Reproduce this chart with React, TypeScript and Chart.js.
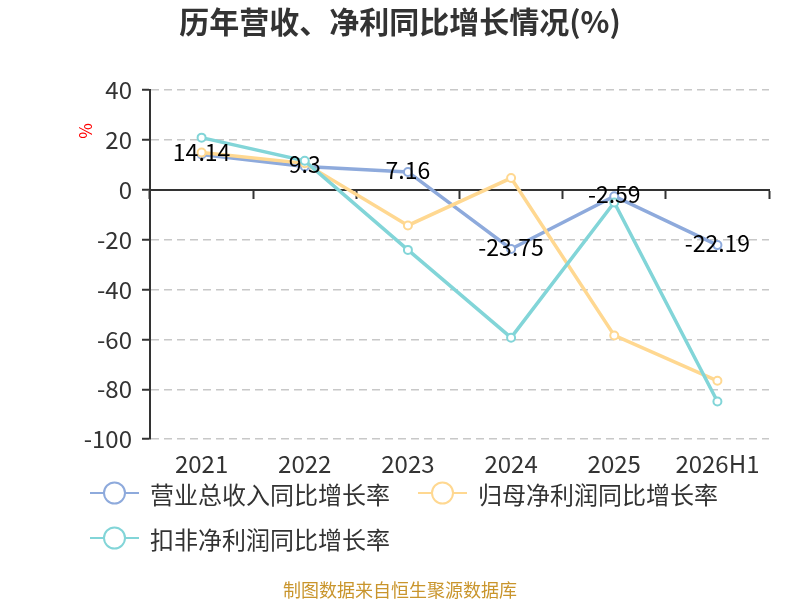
import { useEffect, useRef } from "react";
import { Chart, registerables } from "chart.js";

Chart.register(...registerables);

const FONT = '"Noto Sans CJK SC", "Noto Sans", sans-serif';

const categories = ["2021", "2022", "2023", "2024", "2025", "2026H1"];
const revenueGrowth = [14.14, 9.3, 7.16, -23.75, -2.59, -22.19];
const parentProfitGrowth = [14.9, 10.6, -14.3, 4.7, -58.4, -76.6];
const deductedProfitGrowth = [20.9, 11.6, -24.1, -59.3, -5.1, -84.9];
const seriesNames = ["营业总收入同比增长率", "归母净利润同比增长率", "扣非净利润同比增长率"];
const seriesColors = ["#8eaadc", "#ffd891", "#82d5d8"];

// labels on the revenue line, sitting on the points
const pointLabels = {
  id: "pointLabels",
  afterDatasetsDraw(chart: Chart) {
    const { ctx } = chart;
    const meta = chart.getDatasetMeta(0);
    ctx.save();
    ctx.font = `23px ${FONT}`;
    ctx.fillStyle = "#000";
    ctx.textAlign = "center";
    ctx.textBaseline = "middle";
    meta.data.forEach((pt, i) => {
      ctx.fillText(String(revenueGrowth[i]), pt.x, pt.y - 2);
    });
    ctx.restore();
  },
};

// red "%" unit name next to the y axis
const unitLabel = {
  id: "unitLabel",
  afterDraw(chart: Chart) {
    const { ctx, chartArea } = chart;
    ctx.save();
    ctx.translate(chartArea.left - 64, chartArea.top + 41);
    ctx.rotate(-Math.PI / 2);
    ctx.font = `17px ${FONT}`;
    ctx.fillStyle = "#ff0000";
    ctx.textAlign = "center";
    ctx.textBaseline = "middle";
    ctx.fillText("%", 0, 0);
    ctx.restore();
  },
};

function LegendIcon({ color }: { color: string }) {
  return (
    <svg width="49" height="24" style={{ marginRight: 11, flex: "none" }}>
      <line x1="0" y1="12" x2="49" y2="12" stroke={color} strokeWidth="2" />
      <circle cx="24.5" cy="12" r="10.5" fill="#fff" stroke={color} strokeWidth="2" />
    </svg>
  );
}

export default function App() {
  const canvasRef = useRef<HTMLCanvasElement>(null);

  useEffect(() => {
    document.body.style.margin = "0";
    if (!canvasRef.current) return;

    const series = [revenueGrowth, parentProfitGrowth, deductedProfitGrowth];

    const chart = new Chart(canvasRef.current, {
      type: "line",
      data: {
        labels: categories,
        datasets: series.map((values, i) => ({
          label: seriesNames[i],
          data: values,
          borderColor: seriesColors[i],
          backgroundColor: seriesColors[i],
          borderWidth: 3.5,
          pointRadius: 4,
          pointBorderWidth: 2,
          pointBorderColor: seriesColors[i],
          pointBackgroundColor: "#fff",
          tension: 0,
          order: 2 - i, // later series on top
        })),
      },
      options: {
        responsive: true,
        maintainAspectRatio: false,
        animation: false,
        layout: { padding: { left: 0, right: 0, top: 0, bottom: 112 } },
        plugins: {
          legend: { display: false },
          tooltip: { enabled: false },
          title: {
            display: true,
            text: "历年营收、净利同比增长情况(%)",
            color: "#333",
            font: { family: FONT, size: 30, weight: "bold" },
            padding: { top: 4, bottom: 50 },
          },
        },
        scales: {
          x: {
            type: "category",
            position: "bottom",
            offset: true,
            grid: { display: false, drawTicks: false },
            border: { display: false },
            ticks: { color: "#333", font: { family: FONT, size: 24 }, padding: 10 },
          },
          xZero: {
            type: "category",
            position: { y: 0 },
            offset: true,
            grid: {
              display: true,
              offset: true,
              drawOnChartArea: false,
              drawTicks: true,
              tickLength: 8,
              tickWidth: 2,
              tickColor: "#333",
            },
            border: { display: true, color: "#333", width: 2 },
            ticks: { display: false },
          },
          y: {
            type: "linear",
            position: "left",
            min: -100,
            max: 40,
            ticks: {
              stepSize: 20,
              color: "#333",
              font: { family: FONT, size: 24 },
              padding: 10,
            },
            grid: {
              color: (ctx) => (ctx.tick && ctx.tick.value === 0 ? "rgba(0,0,0,0)" : "#c8c8c8"),
              lineWidth: 1.5,
              tickLength: 8,
              tickWidth: 2,
              tickColor: "#333",
            },
            border: { display: true, color: "#333", width: 2, dash: [8, 5] },
            afterFit: (scale) => {
              scale.width = 150;
            },
          },
          yPad: {
            type: "linear",
            position: "right",
            display: true,
            grid: { display: false },
            ticks: { display: false },
            border: { display: false },
            afterFit: (scale) => {
              scale.width = 31;
            },
          },
        },
      },
      plugins: [pointLabels, unitLabel],
    });

    return () => {
      chart.destroy();
    };
  }, []);

  return (
    <div style={{ position: "relative", width: 800, height: 600, background: "#fff", fontFamily: FONT }}>
      <div style={{ position: "absolute", left: 0, top: 0, width: 800, height: 600 }}>
        <canvas ref={canvasRef}></canvas>
      </div>
      <div
        style={{
          position: "absolute",
          left: 90,
          top: 478,
          width: 640,
          display: "flex",
          flexWrap: "wrap",
          columnGap: 28,
          rowGap: 15,
        }}
      >
        {seriesNames.map((name, i) => (
          <div key={name} style={{ display: "flex", alignItems: "center", height: 30 }}>
            <LegendIcon color={seriesColors[i]} />
            <span style={{ fontSize: 24, color: "#333", whiteSpace: "nowrap" }}>{name}</span>
          </div>
        ))}
      </div>
      <div
        style={{
          position: "absolute",
          left: 0,
          width: 800,
          top: 576,
          textAlign: "center",
          fontSize: 18,
          lineHeight: "26px",
          color: "#c9952c",
        }}
      >
        制图数据来自恒生聚源数据库
      </div>
    </div>
  );
}
